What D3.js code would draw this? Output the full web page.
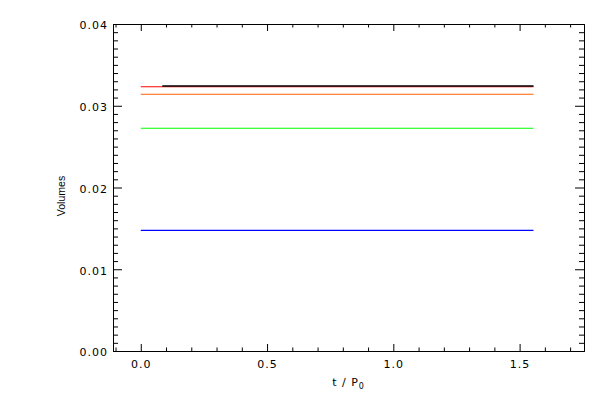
<!DOCTYPE html>
<html><head><meta charset="utf-8">
<script src="https://cdn.jsdelivr.net/npm/d3@7"></script>
<style>body{margin:0;background:#fff}svg{display:block}text{font-family:"DejaVu Sans",sans-serif;fill:#000}</style>
</head><body><svg id="c" width="600" height="400"></svg>
<script>
// Data
const seriesNames = ["red", "black", "orange", "green", "blue"];
const seriesColors = ["#ff0000", "#000000", "#ff6000", "#00ff00", "#0000ff"];
const tStart = [0.0, 0.085, 0.0, 0.0, 0.0];
const tEnd = [1.555, 1.555, 1.555, 1.555, 1.555];
const volStart = [0.03232, 0.03242, 0.03140, 0.02724, 0.01476];
const volEnd = [0.03232, 0.03242, 0.03140, 0.02724, 0.01476];
const xMajor = [0.0, 0.5, 1.0, 1.5];
const yMajor = [0.00, 0.01, 0.02, 0.03, 0.04];
const xLabel = "t / P";
const xLabelSub = "0";
const yLabel = "Volumes";

const svg = d3.select("#c");
const L = 113, R = 584, T = 24, B = 351;
const x = d3.scaleLinear().domain([-0.11, 1.755]).range([L, R]);
const y = d3.scaleLinear().domain([0, 0.04]).range([B, T]);

const xMinor = d3.range(-1, 18).map(i => i / 10).filter(v => v >= -0.11 && v <= 1.755 && !xMajor.some(m => Math.abs(m - v) < 1e-9));
const yMinor = d3.range(0, 41).map(i => i / 1000).filter(v => !yMajor.some(m => Math.abs(m - v) < 1e-9));

function styleAxis(g){ g.select(".domain").attr("stroke","#000").attr("stroke-width",1); g.selectAll(".tick line").attr("stroke","#000").attr("stroke-width",1); g.selectAll("text").attr("font-size",11).attr("letter-spacing","1px"); }

// bottom
svg.append("g").attr("transform",`translate(0,${B})`)
  .call(d3.axisBottom(x).tickValues(xMajor).tickSize(-7).tickSizeOuter(0).tickPadding(9).tickFormat(d3.format(".1f")))
  .call(styleAxis);
svg.append("g").attr("transform",`translate(0,${B})`)
  .call(d3.axisBottom(x).tickValues(xMinor).tickSize(-3.5).tickSizeOuter(0).tickFormat(""))
  .call(styleAxis);
// top
svg.append("g").attr("transform",`translate(0,${T})`)
  .call(d3.axisTop(x).tickValues(xMajor).tickSize(-7).tickSizeOuter(0).tickFormat(""))
  .call(styleAxis);
svg.append("g").attr("transform",`translate(0,${T})`)
  .call(d3.axisTop(x).tickValues(xMinor).tickSize(-3.5).tickSizeOuter(0).tickFormat(""))
  .call(styleAxis);
// left
svg.append("g").attr("transform",`translate(${L},0)`)
  .call(d3.axisLeft(y).tickValues(yMajor).tickSize(-9).tickSizeOuter(0).tickPadding(5).tickFormat(d3.format(".2f")))
  .call(styleAxis)
  .selectAll("text").attr("dy","0.45em");
svg.append("g").attr("transform",`translate(${L},0)`)
  .call(d3.axisLeft(y).tickValues(yMinor).tickSize(-5).tickSizeOuter(0).tickFormat(""))
  .call(styleAxis);
// right
svg.append("g").attr("transform",`translate(${R},0)`)
  .call(d3.axisRight(y).tickValues(yMajor).tickSize(-9).tickSizeOuter(0).tickFormat(""))
  .call(styleAxis);
svg.append("g").attr("transform",`translate(${R},0)`)
  .call(d3.axisRight(y).tickValues(yMinor).tickSize(-5).tickSizeOuter(0).tickFormat(""))
  .call(styleAxis);

// lines
const line = d3.line().x(d => x(d[0])).y(d => y(d[1]));
const order = [0, 2, 3, 4, 1];
order.forEach(i => {
  svg.append("path")
    .datum([[tStart[i], volStart[i]], [tEnd[i], volEnd[i]]])
    .attr("d", line)
    .attr("fill", "none")
    .attr("stroke", seriesColors[i])
    .attr("stroke-width", i === 1 ? 1.6 : 1.1);
});

// labels
const xl = svg.append("text").attr("x", (L + R) / 2).attr("y", 386).attr("text-anchor","middle").attr("font-size",11).attr("letter-spacing","1px");
xl.append("tspan").text(xLabel);
xl.append("tspan").attr("font-size",8).attr("dy",3).text(xLabelSub);
svg.append("text").attr("transform",`translate(65,196) rotate(-90)`).attr("text-anchor","middle")
  .attr("font-size",10.5).style("font-family","'Liberation Sans',sans-serif").text(yLabel);
</script></body></html>
